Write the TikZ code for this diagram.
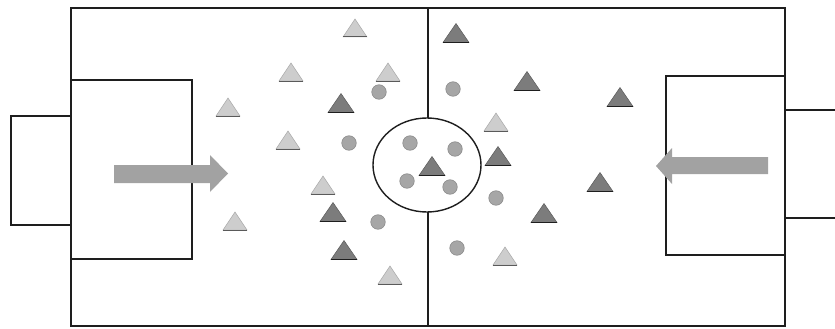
\documentclass[tikz,border=0pt]{standalone}
\begin{document}
\begin{tikzpicture}[x=1pt,y=-1pt]
\definecolor{linecol}{HTML}{1E1E1E}
\definecolor{lighttri}{HTML}{CDCDCD}
\definecolor{lighted}{HTML}{A8A8A8}
\definecolor{darktri}{HTML}{7C7C7C}
\definecolor{darked}{HTML}{5A5A5A}
\definecolor{ballcol}{HTML}{A6A6A6}
\definecolor{balled}{HTML}{8A8A8A}
\definecolor{arrowcol}{HTML}{A2A2A2}
\tikzset{
  fieldline/.style={draw=linecol, line width=2.2pt},
  boxline/.style={draw=linecol, line width=1.4pt},
  lighttriangle/.pic={
    \filldraw[fill=lighttri, draw=lighted, line width=0.5pt] (-12,9) -- (0,-9) -- (12,9) -- cycle;
    \draw[draw=darked, line width=1pt] (-12,9) -- (12,9);
  },
  darktriangle/.pic={
    \filldraw[fill=darktri, draw=darked, line width=0.5pt] (-13,9.5) -- (0,-9.5) -- (13,9.5) -- cycle;
    \draw[draw=linecol, line width=1.2pt] (-13,9.5) -- (13,9.5);
  },
  ballmark/.style={circle, fill=ballcol, draw=balled, line width=0.6pt, minimum size=14.5pt, inner sep=0pt},
  bigarrow/.style={fill=arrowcol, draw=none}
}
\useasboundingbox (0,0) rectangle (835,329);
\fill[white] (0,0) rectangle (835,329);

% field
\draw[fieldline] (71,8) rectangle (785,326);
% halfway line and centre circle
\coordinate (ctop) at (428,8);
\coordinate (cbot) at (428,326);
\coordinate (cc) at (427,165);
\draw[boxline] (cc) ellipse [x radius=54, y radius=47];
\draw[boxline] (ctop) -- (428,118);
\draw[boxline] (428,212) -- (cbot);
% penalty boxes
\draw[boxline] (71,80) rectangle (192,259);
\draw[boxline] (666,76) rectangle (785,255);
% goals
\draw[fieldline] (71,116) -- (11,116) -- (11,225) -- (71,225);
\draw[fieldline] (785,110) -- (835,110);
\draw[fieldline] (785,218) -- (835,218);

% arrows
\fill[bigarrow] (114,165) -- (210,165) -- (210,155) -- (228,173.5) -- (210,192) -- (210,183) -- (114,183) -- cycle;
\fill[bigarrow] (768,157) -- (672,157) -- (672,148) -- (656,166) -- (672,184) -- (672,174) -- (768,174) -- cycle;

% light triangles
\foreach \p/\q in {355/28, 291/72, 388/72, 228/107, 288/140, 323/185, 235/221, 390/275, 496/122, 505/256}
  \pic at (\p,\q) {lighttriangle};
% dark triangles
\foreach \p/\q in {456/33, 527/81, 341/103, 432/166, 498/156, 333/212, 344/250, 544/213, 620/97, 600/182}
  \pic at (\p,\q) {darktriangle};
% balls
\foreach \p/\q [count=\i] in {379/92, 453/89, 349/143, 410/143, 455/149, 407/181, 450/187, 496/198, 378/222, 457/248}
  \node[ballmark] (b\i) at (\p,\q) {};
\end{tikzpicture}
\end{document}
